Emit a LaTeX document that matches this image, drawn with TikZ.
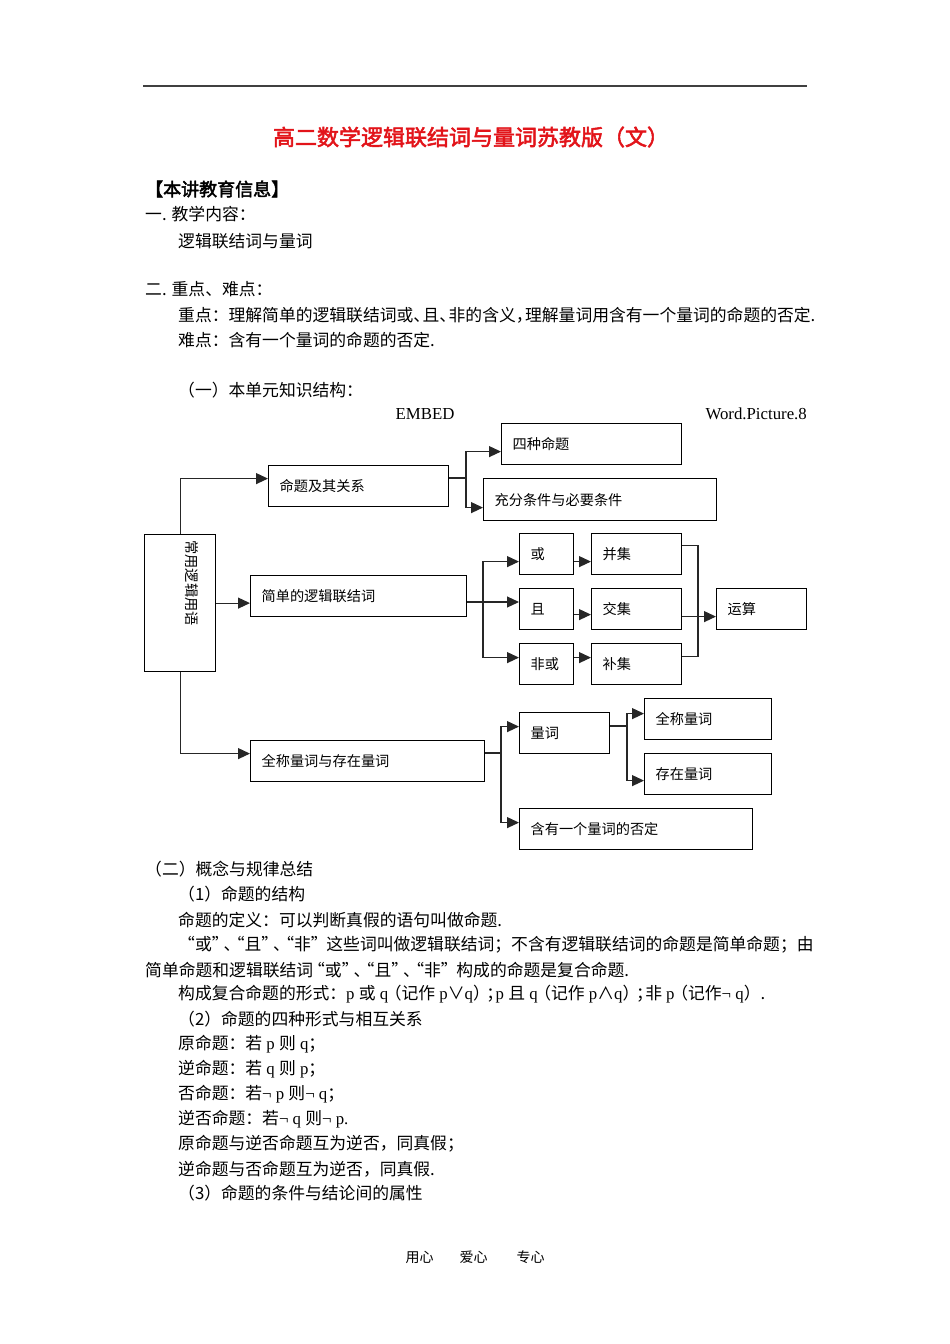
\documentclass[tikz,border=0pt]{standalone}
\usepackage{fontspec}
\setmainfont{Liberation Serif}
\newfontfamily\zh[AutoFakeBold=2.5]{Noto Sans CJK SC}
\usetikzlibrary{arrows.meta}
\definecolor{titlered}{RGB}{226,20,26}
\newcommand\lt[1]{{\rmfamily #1}}
\newcommand\hp[1]{#1\hspace{-0.45em}}
\newcommand\oq{\hspace{-0.3em}“}
\newcommand\cq{”\hspace{-0.3em}}
\newcommand\op{\hspace{-0.2em}（}
\newcommand\cp{）\hspace{-0.2em}}
\tikzset{
  body/.style={anchor=west, inner sep=0pt, font=\fontsize{16.8}{20}\selectfont\zh},
  box/.style={draw, line width=1.2pt, anchor=north west, inner xsep=11pt, inner ysep=0pt,
    minimum height=41pt, align=left, font=\fontsize{14.2}{17}\selectfont\zh},
  conn/.style={line width=1.1pt, black!85},
  arr/.style={conn, -{Triangle[length=12pt,width=11pt]}},
}
\begin{document}
\begin{tikzpicture}[x=1pt, y=-1pt]
\useasboundingbox (0,0) rectangle (950,1344);
\draw[line width=1.5pt, black!75] (143,86) -- (807,86);
\node[inner sep=0pt, text=titlered, font=\fontsize{22}{26}\selectfont\zh\bfseries] (title) at (471,137) {高二数学逻辑联结词与量词苏教版（文）};
\node[anchor=west, inner sep=0pt, font=\fontsize{18}{22}\selectfont\zh\bfseries] (xinxi) at (145,189) {【本讲教育信息】};
\node[body] (neirong) at (145,214) {一. 教学内容：};
\node[body] (neirongA) at (178,241) {逻辑联结词与量词};
\node[body] (nandian) at (145,289) {二. 重点、难点：};
\node[body] (zhongdianA) at (178,315) {重点：理解简单的逻辑联结词或\hp{、}且\hp{、}非的含义\hp{，}理解量词用含有一个量词的命题的否定.};
\node[body] (nandianA) at (178,340) {难点：含有一个量词的命题的否定.};
\node[body] (jiegou) at (178,390) {（一）本单元知识结构：};
\node[body, font=\fontsize{16.8}{20}\selectfont\rmfamily, anchor=center] (embed) at (425,414) {EMBED};
\node[body, font=\fontsize{16.8}{20}\selectfont\rmfamily, anchor=east] (wordpic) at (807,414) {Word.Picture.8};

% knowledge structure
\node[box, text width=158pt] (sizhong) at (501,423) {四种命题};
\node[box, text width=158pt] (mingti) at (268,465) {命题及其关系};
\node[box, text width=211pt, minimum height=42pt] (chongfen) at (483,478) {充分条件与必要条件};
\node[draw, line width=1.2pt, anchor=north west, minimum width=71pt, minimum height=137pt, inner sep=0pt] (changyong) at (144,534) {};
\node[rotate=-90, inner sep=0pt, font=\fontsize{14.2}{17}\selectfont\zh] (changyongtxt) at (192,583) {常用逻辑用语};
\node[box, text width=194pt] (jiandan) at (250,575) {简单的逻辑联结词};
\node[box, text width=32pt] (huo) at (519,533) {或};
\node[box, text width=32pt] (qie) at (519,588) {且};
\node[box, text width=32pt] (feihuo) at (519,643) {非或};
\node[box, text width=68pt] (bingji) at (591,533) {并集};
\node[box, text width=68pt] (jiaoji) at (591,588) {交集};
\node[box, text width=68pt] (buji) at (591,643) {补集};
\node[box, text width=68pt] (yunsuan) at (716,588) {运算};
\node[box, text width=68pt] (liangci) at (519,712) {量词};
\node[box, text width=105pt] (quancheng) at (644,698) {全称量词};
\node[box, text width=105pt] (cunzai) at (644,753) {存在量词};
\node[box, text width=212pt] (quancun) at (250,740) {全称量词与存在量词};
\node[box, text width=211pt] (hanyou) at (519,808) {含有一个量词的否定};

\coordinate (j1) at (466,478);
\coordinate (j2) at (483,602);
\coordinate (j3) at (698,616);
\coordinate (j4) at (501,753);
\coordinate (j5) at (627,726);

\draw[arr] (changyong.north) |- ([yshift=7.5pt]mingti.west);
\draw[arr] (changyong.east) -- (changyong.east -| jiandan.west);
\draw[arr] (changyong.south) |- ([yshift=7.5pt]quancun.west);

\draw[conn] (mingti.east |- j1) -- (j1);
\draw[arr] (j1) |- ([yshift=-7.5pt]sizhong.west);
\draw[arr] (j1) |- ([yshift=-8pt]chongfen.west);

\draw[conn] (jiandan.east |- j2) -- (j2);
\draw[arr] (j2) |- ([yshift=-7.5pt]huo.west);
\draw[arr] (j2) -- (j2 -| qie.west);
\draw[arr] (j2) |- ([yshift=6.5pt]feihuo.west);
\draw[arr] ([yshift=-7.5pt]huo.east) -- ([yshift=-7.5pt]bingji.west);
\draw[arr] ([yshift=-5.5pt]qie.east) -- ([yshift=-5.5pt]jiaoji.west);
\draw[arr] ([yshift=6.5pt]feihuo.east) -- ([yshift=6.5pt]buji.west);
\draw[conn] ([yshift=8.5pt]bingji.east) -| (j3) |- ([yshift=7.5pt]buji.east);
\draw[arr] ([yshift=-7.5pt]jiaoji.east) -- ([yshift=-7.5pt]yunsuan.west);

\draw[conn] (quancun.east |- j4) -- (j4);
\draw[arr] (j4) |- ([yshift=6.5pt]liangci.west);
\draw[arr] (j4) |- ([yshift=6.5pt]hanyou.west);
\draw[conn] (liangci.east |- j5) -- (j5);
\draw[arr] (j5) |- ([yshift=5.5pt]quancheng.west);
\draw[arr] (j5) |- ([yshift=-6.5pt]cunzai.west);

% summary
\node[body] (gainian) at (145,869) {（二）概念与规律总结};
\node[body] (jiegouA) at (178,894) {（1）命题的结构};
\node[body] (dingyi) at (178,920) {命题的定义：可以判断真假的语句叫做命题.};
\node[body] (lianjieA) at (178,945) {“或\cq\hp{、}\oq 且\cq\hp{、}\oq 非\cq\ 这些词叫做逻辑联结词；不含有逻辑联结词的命题是简单命题；由};
\node[body] (lianjieB) at (145,970) {简单命题和逻辑联结词\oq 或\cq\hp{、}\oq 且\cq\hp{、}\oq 非\cq\ 构成的命题是复合命题.};
\node[body] (xingshi) at (178,994) {构成复合命题的形式：\lt{p }或\lt{ q}\op 记作\lt{ p}∨\lt{q}\cp\hp{；}\lt{p }且\lt{ q}\op 记作\lt{ p}∧\lt{q}\cp\hp{；}非\lt{ p}\op 记作\lt{¬ q}）.};
\node[body] (sizhongA) at (178,1019) {（2）命题的四种形式与相互关系};
\node[body] (yuan) at (178,1044) {原命题：若\lt{ p }则\lt{ q}；};
\node[body] (ni) at (178,1069) {逆命题：若\lt{ q }则\lt{ p}；};
\node[body] (fou) at (178,1094) {否命题：若\lt{¬ p }则\lt{¬ q}；};
\node[body] (nifou) at (178,1119) {逆否命题：若\lt{¬ q }则\lt{¬ p.}};
\node[body] (huweiA) at (178,1144) {原命题与逆否命题互为逆否，同真假；};
\node[body] (huweiB) at (178,1169) {逆命题与否命题互为逆否，同真假.};
\node[body] (shuxing) at (178,1193) {（3）命题的条件与结论间的属性};

\node[inner sep=0pt, font=\fontsize{14}{17}\selectfont\zh] (yongxin) at (419.5,1257) {用心};
\node[inner sep=0pt, font=\fontsize{14}{17}\selectfont\zh] (aixin) at (473.5,1257) {爱心};
\node[inner sep=0pt, font=\fontsize{14}{17}\selectfont\zh] (zhuanxin) at (530.5,1257) {专心};
\end{tikzpicture}
\end{document}
